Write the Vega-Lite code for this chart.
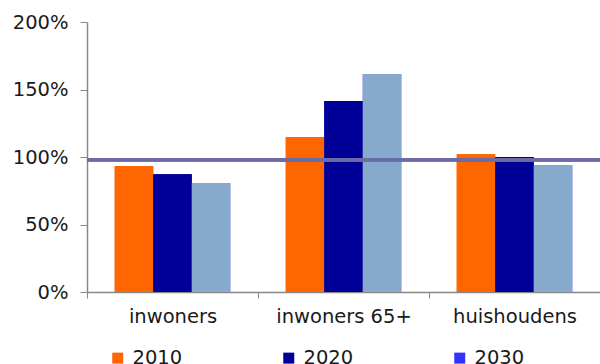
{
  "$schema": "https://vega.github.io/schema/vega-lite/v6.json",
  "width": 513,
  "height": 270,
  "autosize": {"type": "none"},
  "padding": {"left": 87, "top": 22, "right": 0, "bottom": 72},
  "background": "white",
  "config": {
    "view": {"stroke": null},
    "font": "DejaVu Sans",
    "axis": {"grid": false, "domainColor": "#888888", "tickColor": "#888888", "labelColor": "#1a1a1a", "labelFont": "DejaVu Sans", "labelFontSize": 19.5, "domainWidth": 1.5, "tickWidth": 1}
  },
  "data": {
    "values": [
      {"group": "inwoners", "year": "2010", "value": 0.933},
      {"group": "inwoners", "year": "2020", "value": 0.872},
      {"group": "inwoners", "year": "2030", "value": 0.807},
      {"group": "inwoners 65+", "year": "2010", "value": 1.148},
      {"group": "inwoners 65+", "year": "2020", "value": 1.415},
      {"group": "inwoners 65+", "year": "2030", "value": 1.615},
      {"group": "huishoudens", "year": "2010", "value": 1.02},
      {"group": "huishoudens", "year": "2020", "value": 1.0},
      {"group": "huishoudens", "year": "2030", "value": 0.94}
    ]
  },
  "layer": [
    {
      "mark": {"type": "bar", "strokeWidth": 0},
      "encoding": {
        "x": {
          "field": "group", "type": "nominal", "sort": null, "title": null,
          "scale": {"paddingInner": 0, "paddingOuter": 0},
          "axis": {"labelAngle": 0, "tickBand": "extent", "tickSize": 6, "labelPadding": 9}
        },
        "xOffset": {"field": "year", "type": "nominal", "scale": {"paddingInner": 0, "paddingOuter": 0.72}},
        "y": {
          "field": "value", "type": "quantitative", "title": null,
          "scale": {"domain": [0, 2]},
          "axis": {"values": [0, 0.5, 1, 1.5, 2], "format": ".0%", "tickSize": 7, "labelPadding": 12}
        },
        "color": {
          "field": "year", "type": "nominal", "title": null,
          "scale": {"domain": ["2010", "2020", "2030"], "range": ["#ff6600", "#000099", "#3333ff"]},
          "legend": {
            "orient": "none", "legendX": 21, "legendY": 326, "direction": "horizontal", "columns": 3,
            "symbolType": "square", "symbolSize": 121, "symbolStrokeWidth": 0,
            "labelFontSize": 19.5, "labelFont": "DejaVu Sans", "labelColor": "#1a1a1a",
            "labelOffset": 5, "columnPadding": 96
          }
        }
      }
    },
    {
      "mark": {"type": "bar", "strokeWidth": 0},
      "encoding": {
        "x": {"field": "group", "type": "nominal", "sort": null},
        "xOffset": {"field": "year", "type": "nominal"},
        "y": {"field": "value", "type": "quantitative"},
        "fill": {
          "field": "year", "type": "nominal",
          "scale": {"domain": ["2010", "2020", "2030"], "range": ["#ff6600", "#000099", "#87a9cc"]},
          "legend": null
        }
      }
    },
    {
      "mark": {"type": "rule", "color": "#6b6ba6", "strokeWidth": 3},
      "encoding": {"y": {"datum": 0.98}}
    }
  ]
}
